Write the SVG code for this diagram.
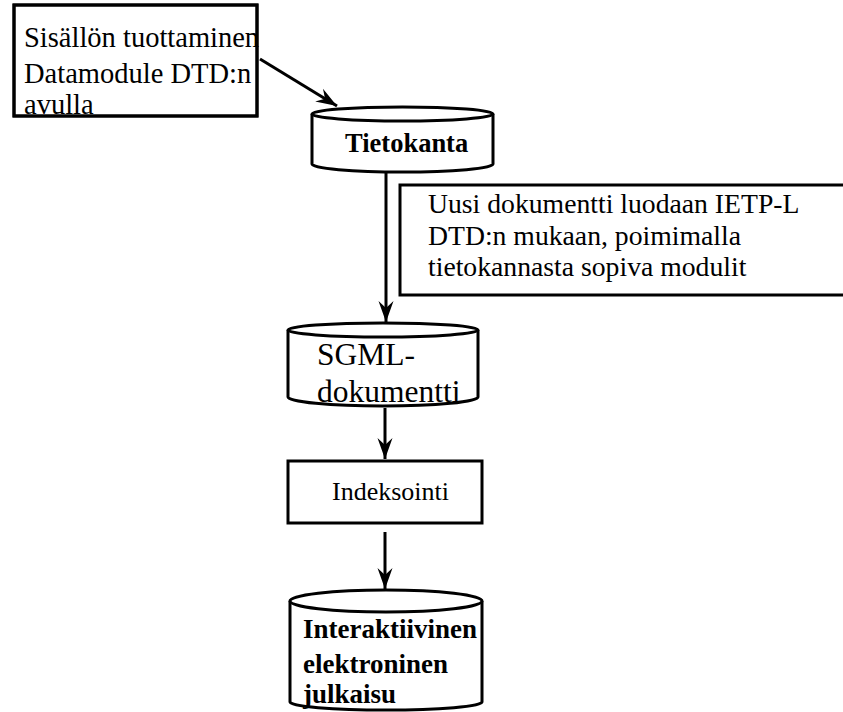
<svg xmlns="http://www.w3.org/2000/svg" width="843" height="712" viewBox="0 0 843 712">
  <style>
    .box { fill: #fff; stroke: #000; stroke-width: 3; }
    .frame { fill: none; stroke: #000; stroke-width: 3; }
    .db { fill: #fff; stroke: #000; stroke-width: 3; }
    .t { font-family: "Liberation Serif", "Times New Roman", serif; fill: #000; }
    .b { font-weight: bold; }
    .edge { stroke: #000; stroke-width: 3; fill: none; }
  </style>
  <defs>
    <marker id="arrow" viewBox="-22 -9 24 18" refX="0" refY="0" markerWidth="24" markerHeight="18" markerUnits="userSpaceOnUse" orient="auto">
      <path d="M0,0 L-21,-7.5 L-14,0 L-21,7.5 Z" fill="#000"/>
    </marker>
  </defs>
  <rect width="843" height="712" fill="#fff"/>

  <!-- connectors -->
  <g id="connectors">
    <line class="edge" x1="260" y1="59" x2="337" y2="106" marker-end="url(#arrow)"/>
    <line class="edge" x1="386" y1="172" x2="386" y2="322" marker-end="url(#arrow)"/>
    <line class="edge" x1="385" y1="408" x2="385" y2="459" marker-end="url(#arrow)"/>
    <line class="edge" x1="385" y1="532" x2="385" y2="589" marker-end="url(#arrow)"/>
  </g>

  <!-- authoring note; the frame is stroked again over the text -->
  <g id="authoring">
    <rect class="box" x="14" y="5" width="243" height="111"/>
    <text class="t" font-size="28.5">
      <tspan x="24" y="47">Sisällön tuottaminen</tspan>
      <tspan x="24" y="83">Datamodule DTD:n</tspan>
      <tspan x="24" y="114">avulla</tspan>
    </text>
    <rect class="frame" x="14" y="5" width="243" height="111"/>
  </g>

  <!-- database -->
  <g id="tietokanta">
    <path class="db" d="M312,114 L312,164 A90.5,8 0 0 0 493,164 L493,114"/>
    <ellipse class="db" cx="402.5" cy="114" rx="90.5" ry="7"/>
    <text class="t b" font-size="26.5" x="345" y="152">Tietokanta</text>
  </g>

  <!-- document creation note -->
  <g id="luonti">
    <path class="box" d="M846,185 L400,185 L400,295 L846,295"/>
    <text class="t" font-size="27.7">
      <tspan x="428" y="213">Uusi dokumentti luodaan IETP-L</tspan>
      <tspan x="428" y="245">DTD:n mukaan, poimimalla</tspan>
      <tspan x="428" y="276">tietokannasta sopiva modulit</tspan>
    </text>
  </g>

  <!-- SGML document store -->
  <g id="sgml">
    <path class="db" d="M288,330 L288,397 A95,9 0 0 0 478,397 L478,330"/>
    <ellipse class="db" cx="383" cy="330" rx="95" ry="7"/>
    <text class="t" font-size="31.5">
      <tspan x="317" y="365">SGML-</tspan>
      <tspan x="317" y="402">dokumentti</tspan>
    </text>
  </g>

  <!-- indexing step -->
  <g id="indeksointi">
    <rect class="box" x="288" y="461" width="194" height="62"/>
    <text class="t" font-size="26" x="332" y="500">Indeksointi</text>
  </g>

  <!-- published result -->
  <g id="julkaisu">
    <path class="db" d="M290,601 L290,702 A96,8 0 0 0 482,702 L482,601"/>
    <ellipse class="db" cx="386" cy="601" rx="96" ry="11"/>
    <text class="t b" font-size="27">
      <tspan x="303" y="638">Interaktiivinen</tspan>
      <tspan x="303" y="673">elektroninen</tspan>
      <tspan x="303" y="703">julkaisu</tspan>
    </text>
  </g>
</svg>
